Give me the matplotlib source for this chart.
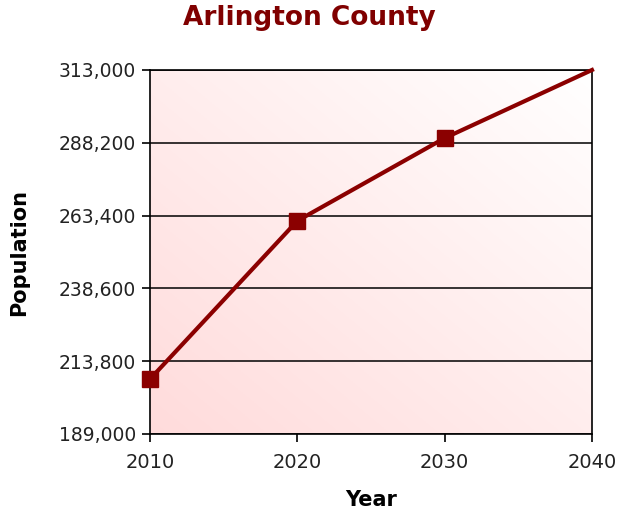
import matplotlib
matplotlib.use("Agg")
import matplotlib.pyplot as plt
import numpy as np
from matplotlib.ticker import FuncFormatter

years = [2010, 2020, 2030, 2040]
population = [207700, 261600, 289800, 313000]
marker_years = years[:3]
marker_pop = population[:3]
y_ticks = [189000, 213800, 238600, 263400, 288200, 313000]

line_color = "#8b0000"

fig = plt.figure(figsize=(6.18, 5.15), dpi=100)
ax = fig.add_axes([0.2427, 0.1573, 0.7152, 0.7068])

# gradient background: pink at bottom-left fading to white at top-right
n = 200
gx, gy = np.meshgrid(np.linspace(0, 1, n), np.linspace(0, 1, n))
t = np.clip((gx + gy) / 2, 0, 1)
c0 = np.array([1.0, 0.86, 0.86])
c1 = np.array([1.0, 1.0, 1.0])
img = c0[None, None, :] * (1 - t[..., None]) + c1[None, None, :] * t[..., None]
ax.imshow(img, extent=[2010, 2040, 189000, 313000], origin="lower",
          aspect="auto", zorder=0)

for yt in y_ticks:
    ax.axhline(yt, color="black", lw=1.1, zorder=1)

ax.plot(years, population, color=line_color, lw=3, zorder=3, clip_on=False)
ax.plot(marker_years, marker_pop, ls="none", marker="s", ms=11.5,
        color=line_color, zorder=4, clip_on=False)

ax.set_xlim(2010, 2040)
ax.set_ylim(189000, 313000)
ax.set_xticks(years)
ax.set_yticks(y_ticks)
ax.yaxis.set_major_formatter(FuncFormatter(lambda v, p: f"{int(v):,}"))
ax.tick_params(axis="both", length=6, width=1.2, color="black",
               labelcolor="#222222")
ax.tick_params(axis="y", labelsize=13.5, pad=4)
ax.tick_params(axis="x", labelsize=14, pad=8)

for s in ax.spines.values():
    s.set_color("black")
    s.set_linewidth(1.2)

fig.text(0.5, 1 - 18 / 515, "Arlington County", fontsize=19,
         fontweight="bold", color="#800000", ha="center", va="center")
fig.text(0.5 * (150 + 592) / 618, 1 - 500 / 515, "Year", fontsize=15,
         fontweight="bold", ha="center", va="center")
fig.text(19 / 618, 1 - 253 / 515, "Population", fontsize=15,
         fontweight="bold", ha="center", va="center", rotation=90)

fig.savefig("out.png", dpi=100)
